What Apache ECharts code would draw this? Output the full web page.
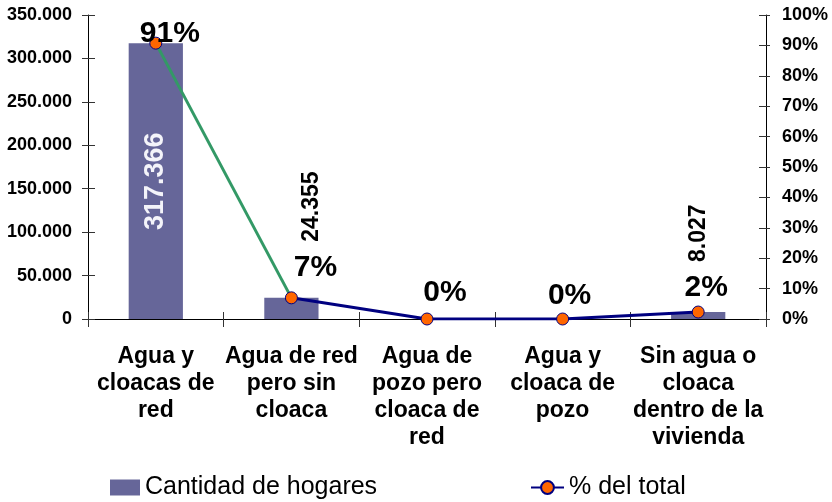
<!DOCTYPE html>
<html>
<head>
<meta charset="utf-8">
<script src="https://cdn.jsdelivr.net/npm/echarts@6/dist/echarts.min.js"></script>
<style>
  html, body { margin: 0; padding: 0; background: #fff; }
  #chart { width: 832px; height: 502px; }
</style>
</head>
<body>
<div id="chart"></div>
<script>
// Hogares según acceso a agua y cloacas
const categories = [
  'Agua y\ncloacas de\nred',
  'Agua de red\npero sin\ncloaca',
  'Agua de\npozo pero\ncloaca de\nred',
  'Agua y\ncloaca de\npozo',
  'Sin agua o\ncloaca\ndentro de la\nvivienda'
];
const hogares = [317366, 24355, 0, 0, 8027];
const leftTicks = [0, 50000, 100000, 150000, 200000, 250000, 300000, 350000];
const rightTicks = [0, 10, 20, 30, 40, 50, 60, 70, 80, 90, 100];

const total = hogares.reduce((a, b) => a + b, 0);
const porcentaje = hogares.map(v => v / total * 100);

const FONT = 'Liberation Sans';
const NAVY = '#000080';
const GREEN = '#339966';
const ORANGE = '#ff6600';
const BAR = '#666699';

function miles(v) {
  return String(Math.round(v)).replace(/\B(?=(\d{3})+(?!\d))/g, '.');
}

// label placement for the count labels on each bar
const barLabelCfg = [
  { show: true, position: 'inside', rotate: 90, fontSize: 27, color: '#f4f4fa' },
  { show: true, position: 'top', rotate: 90, align: 'left', verticalAlign: 'middle', distance: 56, offset: [0, 20], fontSize: 23, color: '#000' },
  { show: false },
  { show: false },
  { show: true, position: 'top', rotate: 90, align: 'left', verticalAlign: 'middle', distance: 50, fontSize: 23, color: '#000' }
];
// nudges for the percentage labels above each point
const pctLabelShift = [[14, 17], [24, -4], [18, 0], [7, 3], [8, 2]];

const pctLabel = (i) => ({
  show: true, position: 'top', distance: 5, offset: pctLabelShift[i],
  fontFamily: FONT, fontWeight: 'bold', fontSize: 30, color: '#000',
  formatter: p => Math.round(p.value) + '%'
});

const markerStyle = { color: ORANGE, borderColor: NAVY, borderWidth: 1 };

const leftMax = leftTicks[leftTicks.length - 1];
const leftStep = leftTicks[1] - leftTicks[0];
const rightMax = rightTicks[rightTicks.length - 1];
const rightStep = rightTicks[1] - rightTicks[0];

const axisLabelFont = { fontFamily: FONT, fontWeight: 'bold', fontSize: 18, color: '#000' };
const legendText = { fontFamily: FONT, fontSize: 25, color: '#000' };

const chart = echarts.init(document.getElementById('chart'), null, { renderer: 'canvas' });
chart.setOption({
  animation: false,
  textStyle: { fontFamily: FONT },
  grid: { left: 88, right: 66, top: 15, bottom: 183 },
  legend: [
    {
      data: [{ name: 'Cantidad de hogares', icon: 'rect' }], left: 110, top: 475, padding: 0,
      itemWidth: 30, itemHeight: 16,
      textStyle: legendText
    },
    {
      data: ['% del total'], left: 530, top: 475, padding: 0,
      itemWidth: 33, itemHeight: 16,
      textStyle: legendText
    }
  ],
  xAxis: [
    {
      type: 'category', data: categories, position: 'bottom',
      axisLine: { lineStyle: { color: '#000', width: 1 } },
      axisTick: { show: true, length: 8, lineStyle: { color: '#333' } },
      axisLabel: {
        interval: 0, margin: 24, lineHeight: 27,
        fontFamily: FONT, fontWeight: 'bold', fontSize: 23, color: '#000'
      }
    },
    {
      type: 'category', data: categories, position: 'bottom',
      axisLine: { show: false },
      axisTick: { show: true, inside: true, length: 7, lineStyle: { color: '#333' } },
      axisLabel: { show: false }
    }
  ],
  yAxis: [
    {
      type: 'value', min: 0, max: leftMax, interval: leftStep, position: 'left',
      axisLine: { show: true, lineStyle: { color: '#000', width: 1 } },
      axisTick: { show: true, length: 6, lineStyle: { color: '#333' } },
      splitLine: { show: false },
      axisLabel: Object.assign({ margin: 16, formatter: v => miles(v) }, axisLabelFont)
    },
    {
      type: 'value', min: 0, max: rightMax, interval: rightStep, position: 'right',
      axisLine: { show: true, lineStyle: { color: '#000', width: 1 } },
      axisTick: { show: true, length: 4, lineStyle: { color: '#333' } },
      splitLine: { show: false },
      axisLabel: Object.assign({ margin: 16, formatter: v => v + '%' }, axisLabelFont)
    },
    {
      type: 'value', min: 0, max: leftMax, interval: leftStep, position: 'left',
      axisLine: { show: false },
      axisTick: { show: true, inside: true, length: 7, lineStyle: { color: '#333' } },
      splitLine: { show: false }, axisLabel: { show: false }
    },
    {
      type: 'value', min: 0, max: rightMax, interval: rightStep, position: 'right',
      axisLine: { show: false },
      axisTick: { show: true, inside: true, length: 7, lineStyle: { color: '#333' } },
      splitLine: { show: false }, axisLabel: { show: false }
    }
  ],
  series: [
    {
      name: 'Cantidad de hogares', type: 'bar', xAxisIndex: 0, yAxisIndex: 0,
      barWidth: '40%',
      itemStyle: { color: BAR },
      data: hogares.map((v, i) => ({
        value: v,
        label: Object.assign({ formatter: p => miles(p.value), fontFamily: FONT, fontWeight: 'bold' }, barLabelCfg[i])
      })),
      z: 1
    },
    {
      // first segment of the percentage line, drawn in green
      name: 'tramo', type: 'line', xAxisIndex: 0, yAxisIndex: 1,
      lineStyle: { color: GREEN, width: 3 },
      itemStyle: markerStyle,
      symbol: 'circle', symbolSize: 12, showSymbol: true,
      data: porcentaje.map((v, i) => {
        if (i === 0) return { value: v, label: pctLabel(0) };
        if (i === 1) return { value: v, symbol: 'none' };
        return '-';
      }),
      z: 3
    },
    {
      name: '% del total', type: 'line', xAxisIndex: 0, yAxisIndex: 1,
      lineStyle: { color: NAVY, width: 3 },
      itemStyle: markerStyle,
      symbol: 'circle', symbolSize: 12, showSymbol: true,
      data: porcentaje.map((v, i) => i === 0 ? '-' : { value: v, label: pctLabel(i) }),
      z: 4
    }
  ]
});
</script>
</body>
</html>
